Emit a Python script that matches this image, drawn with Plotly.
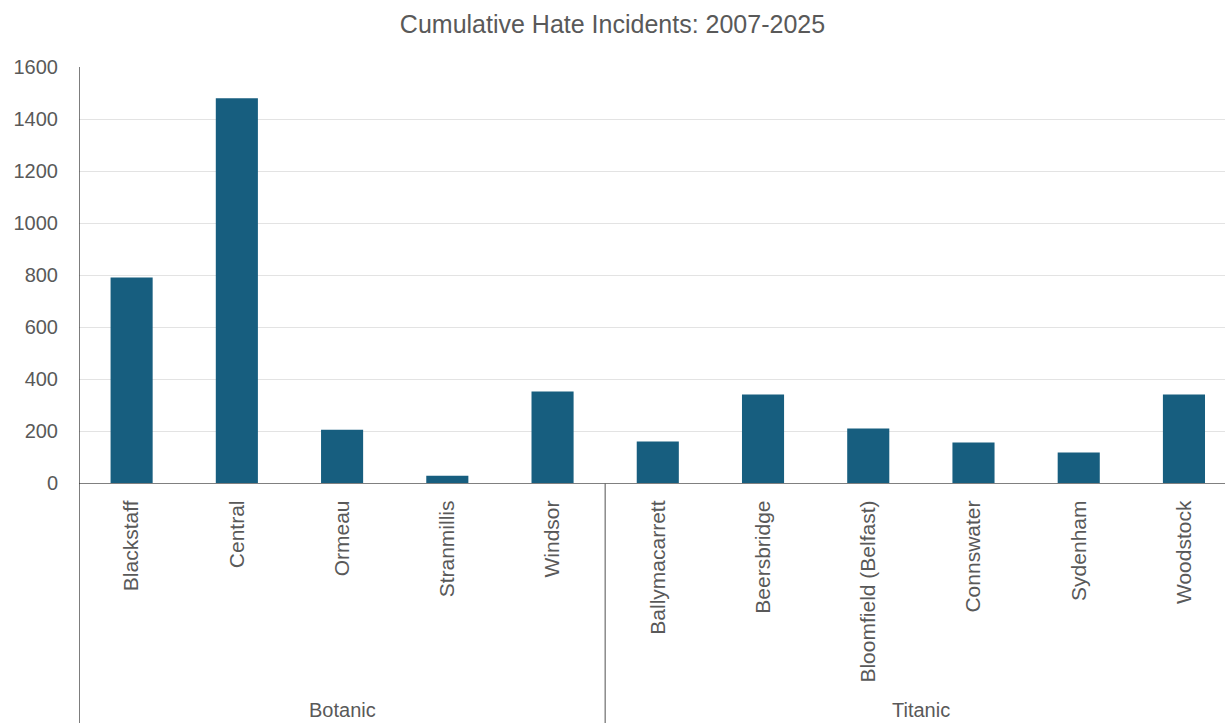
import plotly.graph_objects as go

# Neighbourhoods and their policing districts
areas = ["Blackstaff", "Central", "Ormeau", "Stranmillis", "Windsor",
         "Ballymacarrett", "Beersbridge", "Bloomfield (Belfast)", "Connswater",
         "Sydenham", "Woodstock"]
districts = ["Botanic"] * 5 + ["Titanic"] * 6
incidents = [790, 1480, 205, 28, 352, 160, 340, 210, 156, 117, 340]

group_names = ["Botanic", "Titanic"]
y_ticks = [0, 200, 400, 600, 800, 1000, 1200, 1400, 1600]

BAR = "#175E7F"
TEXT = "#595959"
FONT = "Liberation Sans"

fig = go.Figure(
    go.Bar(x=list(range(len(areas))), y=incidents, width=0.4,
           marker=dict(color=BAR, line=dict(width=0)))
)

n = len(areas)
plot_h = 483 - 67
below = 723 - 483

shapes = []
# left axis line running down through the category panel
shapes.append(dict(type="line", xref="x", yref="paper", x0=-0.5, x1=-0.5,
                   y0=1, y1=-below / plot_h - 0.01,
                   line=dict(color="#262626", width=1.2)))
# dividers between district groups, plus group captions
annotations = []
for g in group_names:
    members = [i for i, d in enumerate(districts) if d == g]
    first, last = members[0], members[-1]
    if first > 0:
        shapes.append(dict(type="line", xref="x", yref="paper",
                           x0=first - 0.5, x1=first - 0.5,
                           y0=0, y1=-below / plot_h - 0.01,
                           line=dict(color="#6E6E6E", width=1.2)))
    annotations.append(dict(x=(first + last) / 2, xref="x",
                            y=-(722 - 483) / plot_h, yref="paper",
                            text=g, showarrow=False, yanchor="bottom",
                            borderpad=0,
                            font=dict(family=FONT, size=20, color=TEXT)))

fig.update_layout(
    width=1225, height=723,
    margin=dict(l=79, r=0, t=67, b=240),
    paper_bgcolor="white", plot_bgcolor="white",
    showlegend=False,
    title=dict(text="Cumulative Hate Incidents: 2007-2025", x=0.5, xanchor="center",
               y=1 - 24 / 723, yanchor="middle",
               font=dict(family=FONT, size=25, color=TEXT)),
    xaxis=dict(tickmode="array", tickvals=list(range(n)), ticktext=areas,
               tickangle=-90, range=[-0.5, n - 0.61], showgrid=False,
               showline=True, linecolor="#808080", linewidth=1.2,
               ticks="", ticklabelstandoff=8,
               tickfont=dict(family=FONT, size=21, color=TEXT), zeroline=False),
    yaxis=dict(range=[0, 1600], tickvals=y_ticks, showgrid=True,
               gridcolor="#E3E3E3", gridwidth=1, zeroline=False,
               showline=False, ticks="", ticklabelstandoff=20,
               tickfont=dict(family=FONT, size=20, color=TEXT)),
    shapes=shapes, annotations=annotations,
    bargap=0.6,
)

fig.write_html("out.html")
